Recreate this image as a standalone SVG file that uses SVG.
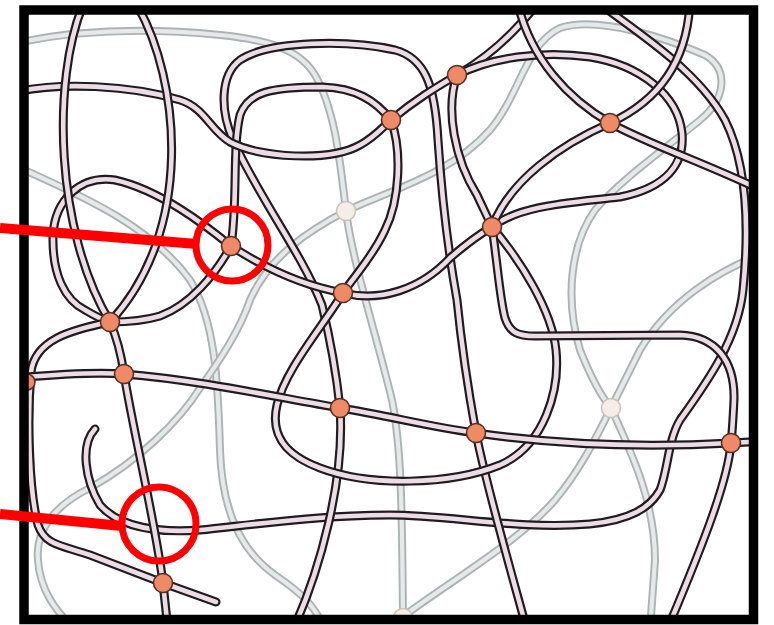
<svg xmlns="http://www.w3.org/2000/svg" xmlns:xlink="http://www.w3.org/1999/xlink" width="774" height="625" viewBox="0 0 774 625">
<style>
.go{fill:none;stroke:#adb2b2;stroke-width:8;stroke-linecap:round}
.gi{fill:none;stroke:#e6e9ea;stroke-width:4.2;stroke-linecap:round}
.do{fill:none;stroke:#221b1e;stroke-width:9;stroke-linecap:round}
.di{fill:none;stroke:#ebdde5;stroke-width:4.6;stroke-linecap:round}
.node{fill:#ee8a66;stroke:#5a3026;stroke-width:1.6}
.faded{fill:#f4ede8;stroke:#c9c3bf;stroke-width:1.6}
.red{fill:none;stroke:#ff0000;stroke-linecap:butt}
</style>
<defs>
<clipPath id="clip"><rect x="20" y="6" width="737" height="617"/></clipPath>
<path id="g1" d="M 20,42 C 80,30 150,28 220,35 C 270,40 300,50 315,75 C 335,110 340,160 346,211 C 352,260 375,330 392,400 C 402,450 402,520 403,617"/>
<path id="g2" d="M 20,168 C 80,195 150,225 190,280 C 215,320 218,380 220,450 C 222,510 240,550 275,575 C 300,592 315,605 325,630"/>
<path id="g3" d="M 346,211 C 390,190 450,175 490,130 C 520,95 525,45 560,28 C 600,15 670,40 705,55 C 730,70 725,100 700,120 C 670,145 620,180 595,210 C 570,245 565,300 580,350 C 590,375 600,395 611,408 C 630,450 655,500 655,560 L 650,630"/>
<path id="g4" d="M 346,211 C 310,230 270,255 250,300 C 240,330 220,360 200,388 C 180,420 140,460 90,488 C 55,505 35,530 38,560 C 40,590 55,610 75,630"/>
<path id="g6" d="M 760,255 C 720,270 670,300 640,350 C 630,370 620,390 611,408 C 595,440 580,470 555,500 C 520,540 460,575 405,615"/>
<path id="d1" d="M 83,5 C 52,80 55,230 110,322 C 118,340 122,360 124,374 C 135,440 155,520 163,583 L 168,630"/>
<path id="d2" d="M 137,5 C 180,80 195,230 110,322 C 70,330 35,340 31,372 C 27,420 29,490 38,525 C 45,545 60,545 90,555 L 163,583 L 216,602"/>
<path id="d3" d="M 15,378 C 60,374 100,372 124,374 C 200,380 280,398 340,408 C 390,416 430,427 476,433 C 560,445 640,448 731,443 L 765,441"/>
<path id="d4" d="M 293,630 C 320,570 345,480 340,408 C 335,360 328,330 322,305 C 300,250 260,200 233,140 C 220,110 220,75 240,60 C 270,40 350,40 395,50 C 425,58 435,85 438,140 C 442,200 448,250 457,300 C 462,350 470,400 476,433 C 485,480 505,550 527,630"/>
<path id="d5" d="M 15,92 C 60,82 130,85 180,100 C 205,108 210,130 230,142 C 260,158 330,162 360,145 C 375,137 383,127 391,120 C 415,100 435,88 457,75 C 480,62 510,40 540,0"/>
<path id="d6" d="M 231,246 C 238,200 232,150 240,115 C 248,92 270,87 323,87 C 355,88 375,100 391,120 C 402,150 400,200 385,230 C 372,258 355,275 343,293 C 320,330 285,370 277,405 C 270,435 285,455 320,468 C 370,487 450,485 500,465 C 545,445 560,390 556,350 C 552,310 520,260 492,227"/>
<path id="d7" d="M 231,246 C 260,265 300,285 343,293 C 380,302 420,290 450,258 C 465,245 478,235 492,227 C 520,205 570,203 620,197 C 665,188 685,165 682,133 C 678,95 640,65 590,57 C 540,50 490,58 457,75 C 445,110 455,160 477,195 C 483,208 488,218 492,227 C 497,260 500,300 505,318 C 510,333 518,336 535,336 L 680,335 C 715,336 735,360 734,400 C 733,420 732,435 731,443 C 728,480 705,540 667,630"/>
<path id="d8a" d="M 690,0 C 688,60 660,100 610,123 C 560,145 510,180 492,227"/>
<path id="d8b" d="M 517,0 C 530,60 570,100 610,123 C 650,145 710,165 765,192"/>
<path id="d9" d="M 594,0 C 650,40 700,75 725,120 C 745,160 750,220 743,290 C 738,340 705,385 680,420 C 668,440 668,470 660,490 C 650,508 630,520 590,524 C 520,530 450,515 390,515 C 320,515 250,525 200,530 C 160,533 120,528 100,505 C 85,480 80,445 95,429"/>
<path id="d10a" d="M 231,246 C 215,275 190,305 160,316 C 140,322 120,322 110,322"/>
<path id="d10b" d="M 231,246 C 205,225 160,190 115,180 C 80,175 55,200 53,235 C 52,275 65,300 85,310 C 95,316 103,320 110,322"/>
</defs>
<rect x="0" y="0" width="774" height="625" fill="#ffffff"/>
<g id="network" clip-path="url(#clip)">
<g id="background-strands">
<use xlink:href="#g1" class="go"/><use xlink:href="#g1" class="gi"/>
<use xlink:href="#g2" class="go"/><use xlink:href="#g2" class="gi"/>
<use xlink:href="#g3" class="go"/><use xlink:href="#g3" class="gi"/>
<use xlink:href="#g4" class="go"/><use xlink:href="#g4" class="gi"/>
<use xlink:href="#g6" class="go"/><use xlink:href="#g6" class="gi"/>
<circle class="faded" cx="346" cy="211" r="9.5"/>
<circle class="faded" cx="611" cy="408" r="9.5"/>
<circle class="faded" cx="403" cy="618" r="9.5"/>
</g>
<g id="strands">
<use xlink:href="#d9" class="do"/><use xlink:href="#d9" class="di"/>
<use xlink:href="#d4" class="do"/><use xlink:href="#d4" class="di"/>
<use xlink:href="#d6" class="do"/><use xlink:href="#d6" class="di"/>
<use xlink:href="#d5" class="do"/><use xlink:href="#d5" class="di"/>
<use xlink:href="#d7" class="do"/><use xlink:href="#d7" class="di"/>
<use xlink:href="#d8a" class="do"/><use xlink:href="#d8a" class="di"/>
<use xlink:href="#d8b" class="do"/><use xlink:href="#d8b" class="di"/>
<use xlink:href="#d10b" class="do"/><use xlink:href="#d10b" class="di"/>
<use xlink:href="#d10a" class="do"/><use xlink:href="#d10a" class="di"/>
<use xlink:href="#d2" class="do"/><use xlink:href="#d2" class="di"/>
<use xlink:href="#d1" class="do"/><use xlink:href="#d1" class="di"/>
<use xlink:href="#d3" class="do"/><use xlink:href="#d3" class="di"/>
</g>
<g id="crosslinks">
<circle id="n1" class="node" cx="110" cy="322" r="9.5"/>
<circle id="n2" class="node" cx="124" cy="374" r="9.5"/>
<circle id="n3" class="node" cx="163" cy="583" r="9.5"/>
<circle id="n4" class="node" cx="231" cy="246" r="9.5"/>
<circle id="n5" class="node" cx="343" cy="293" r="9.5"/>
<circle id="n6" class="node" cx="391" cy="120" r="9.5"/>
<circle id="n7" class="node" cx="457" cy="75" r="9.5"/>
<circle id="n8" class="node" cx="492" cy="227" r="9.5"/>
<circle id="n9" class="node" cx="610" cy="123" r="9.5"/>
<circle id="n10" class="node" cx="340" cy="408" r="9.5"/>
<circle id="n11" class="node" cx="476" cy="433" r="9.5"/>
<circle id="n12" class="node" cx="731" cy="443" r="9.5"/>
<circle id="n13" class="node" cx="27" cy="382" r="8"/>
</g>
</g>
<rect id="frame" x="24" y="10" width="729.5" height="609.5" fill="none" stroke="#000000" stroke-width="9.5"/>
<g id="callouts">
<line class="red" x1="0" y1="228" x2="197" y2="244" stroke-width="10"/>
<circle class="red" cx="232" cy="245" r="36" stroke-width="7"/>
<line class="red" x1="0" y1="514" x2="122" y2="526" stroke-width="10"/>
<circle class="red" cx="159" cy="524" r="37" stroke-width="7"/>
</g>
</svg>
